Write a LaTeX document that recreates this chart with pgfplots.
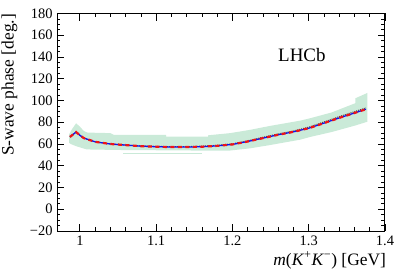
\documentclass[border=0pt]{standalone}
\usepackage{pgfplots}
\pgfplotsset{compat=1.18}
\usepackage{fontspec}
\setmainfont{Liberation Serif}
\definecolor{bandgreen}{RGB}{202,234,216}
\definecolor{myred}{RGB}{240,20,20}
\definecolor{myblue}{RGB}{20,20,235}
\begin{document}
\begin{tikzpicture}[x=1bp,y=1bp]
\path[use as bounding box] (0,0) rectangle (407,276);
\begin{axis}[
  at={(57bp,45bp)}, anchor=south west,
  scale only axis, width=328bp, height=217.5bp,
  xmin=0.97, xmax=1.4, ymin=-20, ymax=180,
  xtick={1,1.1,1.2,1.3,1.4},
  xticklabels={1,1.1,1.2,1.3,1.4},
  ytick={-20,0,20,40,60,80,100,120,140,160,180},
  yticklabels={−20,0,20,40,60,80,100,120,140,160,180},
  minor x tick num=4, minor y tick num=3,
  tick align=inside, tick pos=both,
  major tick length=7bp, minor tick length=3.5bp,
  axis line style={line width=1bp},
  every tick/.style={black, line width=0.8bp},
  tick label style={font=\fontsize{14.5}{14.5}\selectfont},
  /pgf/number format/assume math mode=true,
  xticklabel style={yshift=-1bp},
  yticklabel style={xshift=-1bp},
  xlabel={\textit{m}(\textit{K}\textsuperscript{+}\textit{K}\textsuperscript{−}) [GeV]},
  ylabel={S-wave phase [deg.]},
  label style={font=\fontsize{17.5}{17.5}\selectfont},
  xlabel style={at={(axis description cs:1,0)}, anchor=base east, yshift=-34bp, xshift=4.5bp},
  ylabel style={at={(axis description cs:0,1)}, anchor=south east, yshift=36bp, xshift=3bp},
  clip=true,
]
% uncertainty band
\addplot[draw=none, fill=bandgreen] coordinates {
(0.986,69) (0.990,74) (0.995,79) (1.000,76) (1.005,72) (1.010,70.5) (1.040,70) (1.045,68.3)
(1.113,68.3) (1.113,66.8) (1.168,66.8) (1.168,68) (1.197,70) (1.223,73) (1.249,76.6)
(1.289,81.5) (1.302,83.7) (1.330,89) (1.361,97.5) (1.361,102) (1.377,107)
(1.377,80.5) (1.361,77) (1.330,71) (1.302,66.5) (1.289,64) (1.249,59) (1.223,56) (1.197,54)
(1.150,54) (1.050,54.5) (1.009,55) (0.995,58) (0.988,60) (0.986,61)
} -- cycle;
\addplot[bandgreen, line width=1.2bp] coordinates {(1.057,51) (1.160,51)};
% black dotted
\addplot[black!70, line width=1bp, densely dotted] coordinates {
(0.987,66.5) (0.995,71) (1.000,68) (1.005,65.5) (1.020,62) (1.040,60) (1.060,59) (1.080,58.2)
(1.100,57.8) (1.120,57.6) (1.140,57.6) (1.160,58) (1.180,58.8) (1.200,60.2) (1.220,63)
(1.240,66.2) (1.260,69.3) (1.280,72) (1.300,75.5) (1.320,80.3) (1.340,85.2) (1.360,89.8) (1.375,93.2)
};
% blue solid
\addplot[myblue, line width=1.3bp] coordinates {
(0.987,66.5) (0.995,71) (1.000,68) (1.005,65.5) (1.020,62) (1.040,60) (1.060,59) (1.080,58)
(1.100,57.5) (1.120,57.2) (1.140,57.2) (1.160,57.5) (1.180,58.3) (1.200,59.6) (1.220,62.3)
(1.240,65.4) (1.260,68.5) (1.280,71.2) (1.300,74.5) (1.320,79.2) (1.340,84) (1.360,88.5) (1.375,92)
};
% red dashed
\addplot[myred, line width=2.2bp, dash pattern=on 4bp off 3.5bp] coordinates {
(0.987,66.5) (0.995,71) (1.000,68) (1.005,65.5) (1.020,62) (1.040,60) (1.060,59) (1.080,58)
(1.100,57.5) (1.120,57.2) (1.140,57.2) (1.160,57.5) (1.180,58.3) (1.200,59.6) (1.220,62.3)
(1.240,65.4) (1.260,68.5) (1.280,71.2) (1.300,74.5) (1.320,79.2) (1.340,84) (1.360,88.5) (1.375,92)
};
\node[font=\fontsize{19}{19}\selectfont] at (axis cs:1.291,142) {LHCb};
\end{axis}
\end{tikzpicture}
\end{document}
